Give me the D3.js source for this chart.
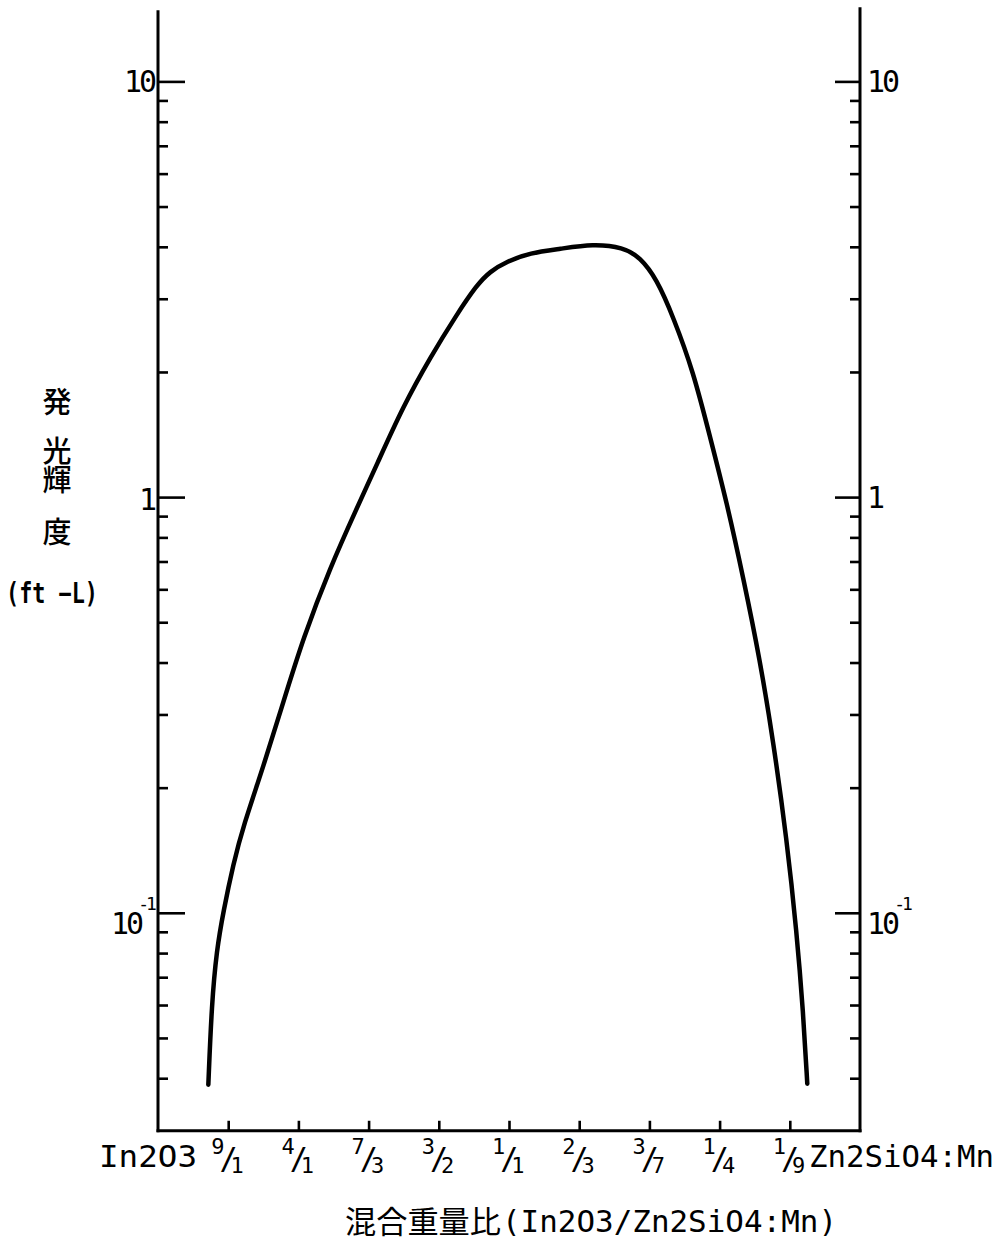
<!DOCTYPE html>
<html><head><meta charset="utf-8">
<script src="https://cdn.jsdelivr.net/npm/d3@7"></script>
<style>
html,body{margin:0;padding:0;background:#fff;}
svg{display:block;}
text{fill:#000;}
</style></head>
<body>
<script>
// ---- data ----
const xTickValues = [10, 20, 30, 40, 50, 60, 70, 80, 90];          // Zn2SiO4:Mn weight %
const xTickLabels = ["9/1", "4/1", "7/3", "3/2", "1/1", "2/3", "3/7", "1/4", "1/9"];
const xEndLabels = ["In2O3", "Zn2SiO4:Mn"];
const yMajorTicks = [0.1, 1, 10];
const yMajorLabels = ["10^-1", "1", "10"];
const yMinorTicks = [0.04,0.05,0.06,0.07,0.08,0.09,0.2,0.3,0.4,0.5,0.6,0.7,0.8,0.9,2,3,4,5,6,7,8,9];
const yTitleChars = ["発", "光", "輝", "度"];
const yUnit = "(ft\u2009−L)";
const xTitleJa = "混合重量比";
const xTitleLatin = "(In2O3/Zn2SiO4:Mn)";
const curveX = [7.17, 7.65, 8.36, 9.30, 10.73, 12.15, 15.0, 17.85, 20.70, 24.50, 28.30, 31.15, 34.94, 38.75, 42.55, 45.40, 47.29, 49.67, 53.0, 57.26, 61.97, 66.27, 68.66, 71.04, 73.40, 76.25, 78.63, 81.01, 83.38, 85.75, 87.65, 89.56, 90.98, 91.92, 92.49];
const curveY = [0.0386, 0.0604, 0.0814, 0.1005, 0.1312, 0.1618, 0.2244, 0.3214, 0.459, 0.676, 0.939, 1.195, 1.656, 2.164, 2.748, 3.236, 3.489, 3.684, 3.87, 3.953, 4.064, 3.988, 3.776, 3.347, 2.712, 2.006, 1.397, 0.973, 0.639, 0.406, 0.2584, 0.1505, 0.090, 0.0573, 0.0388];
const yDomainExt = [0.0299, 14.7];

// ---- layout ----
const W = 1008, H = 1251;
const LATIN = "'DejaVu Sans Mono', monospace";
const CJK = "'Noto Sans CJK JP', sans-serif";

const svg = d3.select("body").append("svg").attr("width", W).attr("height", H);
const x = d3.scaleLinear().domain([0, 100]).range([158, 860]);
const y = d3.scaleLog().domain([0.1, 10]).range([912.8, 81.4]);
const xL = x(0), xR = x(100);
const yT = y(yDomainExt[1]), yB = y(yDomainExt[0]);

// axis frame lines
const frame = svg.append("g").attr("stroke", "#000").attr("stroke-width", 3).attr("fill", "none").attr("stroke-linecap", "square");
frame.append("line").attr("x1", xL).attr("x2", xL).attr("y1", yT).attr("y2", yB);
frame.append("line").attr("x1", xR).attr("x2", xR).attr("y1", yT - 3).attr("y2", yB);
frame.append("line").attr("x1", xL).attr("x2", xR).attr("y1", yB).attr("y2", yB);

function styleAxis(g){
  g.select(".domain").remove();
  g.selectAll(".tick line").attr("stroke", "#000").attr("stroke-width", 2.6);
  g.selectAll(".tick text").remove();
}
svg.append("g").attr("transform", `translate(${xL},0)`)
  .call(d3.axisLeft(y).tickValues(yMinorTicks).tickSize(-10).tickFormat("")).call(styleAxis);
svg.append("g").attr("transform", `translate(${xL},0)`)
  .call(d3.axisLeft(y).tickValues(yMajorTicks).tickSize(-27).tickFormat("")).call(styleAxis);
svg.append("g").attr("transform", `translate(${xR},0)`)
  .call(d3.axisRight(y).tickValues(yMinorTicks).tickSize(-10).tickFormat("")).call(styleAxis);
svg.append("g").attr("transform", `translate(${xR},0)`)
  .call(d3.axisRight(y).tickValues(yMajorTicks).tickSize(-25).tickFormat("")).call(styleAxis);
svg.append("g").attr("transform", `translate(0,${yB})`)
  .call(d3.axisBottom(x).tickValues(xTickValues).tickSize(-10).tickFormat("")).call(styleAxis);

// y major labels (left and right)
function drawYLabel(v, lab, side){
  const yy = y(v);
  const [base, exp] = lab.split("^");
  const t = svg.append("text").attr("font-family", LATIN).attr("font-size", 30);
  if (exp){
    const x0 = side === "left" ? 111 : xR + 7;
    t.attr("x", x0).attr("y", yy + 21);
    t.append("tspan").attr("letter-spacing", -3).text(base);
    t.append("tspan").attr("dx", -3).attr("dy", -24).attr("font-size", 18).attr("letter-spacing", -3).text(exp);
  } else {
    if (side === "left"){
      t.attr("x", 154).attr("y", yy + (base === "1" ? 13 : 11)).attr("text-anchor", "end").attr("letter-spacing", -3).text(base);
    } else {
      t.attr("x", xR + 7).attr("y", yy + 11).attr("letter-spacing", -3).text(base);
    }
  }
}
yMajorTicks.forEach((v, i) => { drawYLabel(v, yMajorLabels[i], "left"); drawYLabel(v, yMajorLabels[i], "right"); });

// x fraction tick labels (single text with raised numerator / lowered denominator)
const fr = svg.append("g").attr("font-family", LATIN);
xTickValues.forEach((v, i) => {
  const [num, den] = xTickLabels[i].split("/");
  const xx = x(v);
  const t = fr.append("text").attr("x", xx - 17).attr("y", 1154);
  t.append("tspan").attr("font-size", 22).text(num);
  t.append("tspan").attr("font-size", 30).attr("dx", -5).attr("dy", 15).text("/");
  t.append("tspan").attr("font-size", 22).attr("dx", -7).attr("dy", 4).text(den);
});

// end labels
svg.append("text").attr("x", 99).attr("y", 1167).attr("font-family", LATIN).attr("font-size", 31)
  .attr("textLength", 98).attr("lengthAdjust", "spacingAndGlyphs").text(xEndLabels[0]);
svg.append("text").attr("x", 809).attr("y", 1167).attr("font-family", LATIN).attr("font-size", 31)
  .attr("textLength", 185).attr("lengthAdjust", "spacingAndGlyphs").text(xEndLabels[1]);

// x title
svg.append("text").attr("x", 345).attr("y", 1233).attr("font-family", CJK).attr("font-size", 31)
  .attr("textLength", 156).attr("lengthAdjust", "spacingAndGlyphs").text(xTitleJa);
svg.append("text").attr("x", 502).attr("y", 1232).attr("font-family", LATIN).attr("font-size", 31)
  .attr("textLength", 335).attr("lengthAdjust", "spacingAndGlyphs").text(xTitleLatin);

// y title (vertical stacked)
const yCharCenters = [403, 452, 481, 533];
yTitleChars.forEach((c, i) => {
  svg.append("text").attr("x", 57).attr("y", yCharCenters[i] + 10).attr("text-anchor", "middle")
    .attr("font-family", CJK).attr("font-size", 29).attr("font-weight", 500).text(c);
});
svg.append("text").attr("x", 6).attr("y", 603).attr("font-family", LATIN).attr("font-size", 28)
  .attr("font-weight", "bold").attr("textLength", 92).attr("lengthAdjust", "spacingAndGlyphs").text(yUnit);

// curve
const pts = curveX.map((v, i) => [v, curveY[i]]);
svg.append("path").datum(pts)
  .attr("d", d3.line().x(d => x(d[0])).y(d => y(d[1])).curve(d3.curveBasis))
  .attr("fill", "none").attr("stroke", "#000").attr("stroke-width", 4.5)
  .attr("stroke-linecap", "round").attr("stroke-linejoin", "round");
</script>
</body></html>
